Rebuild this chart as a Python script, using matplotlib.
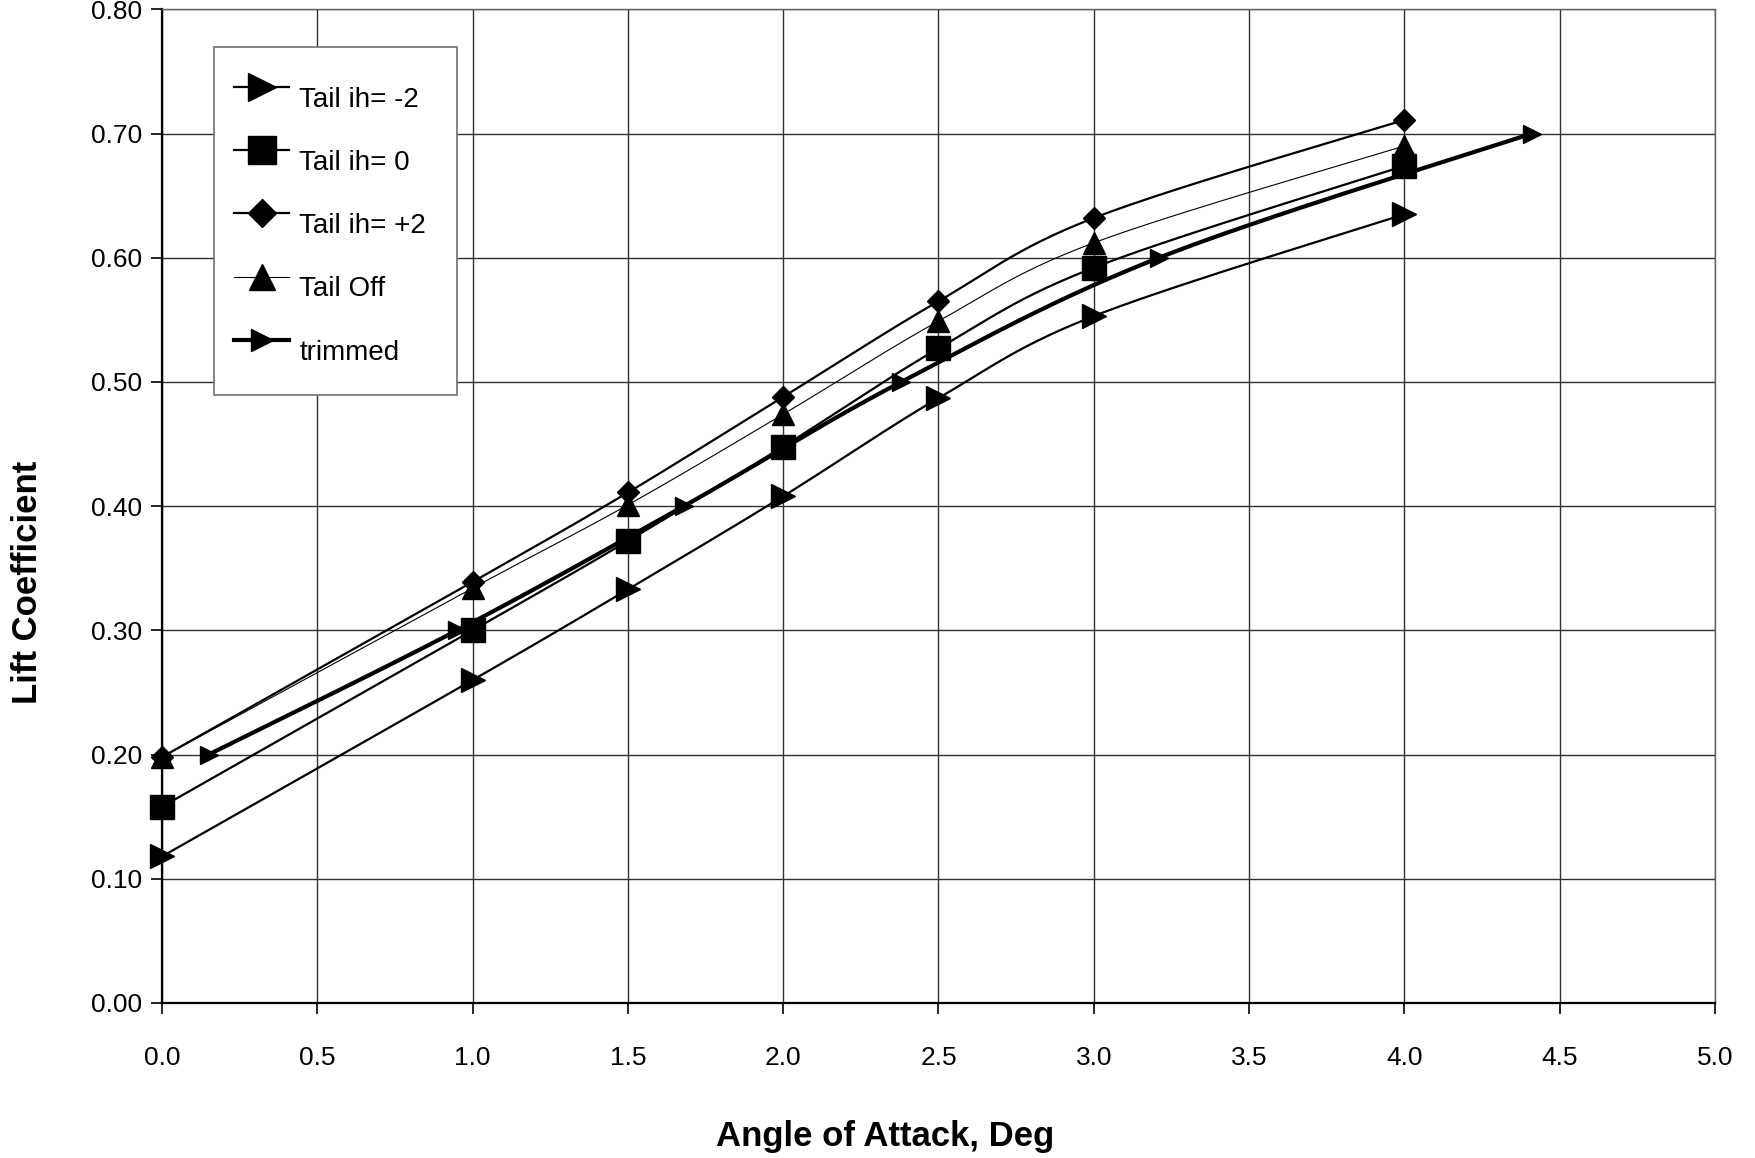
import numpy as np
import matplotlib.pyplot as plt
from matplotlib.ticker import MultipleLocator, FormatStrFormatter
from matplotlib.patches import Rectangle

plt.rcParams['font.family'] = ['Liberation Sans', 'DejaVu Sans']

# angle of attack, deg
alpha = [0.0, 1.0, 1.5, 2.0, 2.5, 3.0, 4.0]

# lift coefficient for each tail setting
cl_ih_m2 = [0.118, 0.260, 0.333, 0.408, 0.487, 0.553, 0.635]
cl_ih_0 = [0.158, 0.300, 0.372, 0.448, 0.527, 0.592, 0.674]
cl_ih_p2 = [0.198, 0.339, 0.411, 0.488, 0.565, 0.632, 0.711]
cl_tail_off = [0.198, 0.334, 0.401, 0.474, 0.549, 0.612, 0.690]

# trimmed condition
alpha_trim = [0.15, 0.95, 1.68, 2.38, 3.21, 4.41]
cl_trim = [0.20, 0.30, 0.40, 0.50, 0.60, 0.70]

XMAX, YMAX = 5.0, 0.8


def smooth(x, y, n=30):
    # excel style smoothed line (catmull-rom bezier), done in scaled space
    p = np.column_stack([np.asarray(x) / XMAX * 1.56, np.asarray(y) / YMAX])
    out = [p[0]]
    t = np.linspace(0, 1, n + 1)[1:][:, None]
    for i in range(len(p) - 1):
        p0 = p[i - 1] if i > 0 else p[i]
        p1, p2 = p[i], p[i + 1]
        p3 = p[i + 2] if i + 2 < len(p) else p[i + 1]
        c1 = p1 + (p2 - p0) / 6
        c2 = p2 - (p3 - p1) / 6
        seg = ((1 - t) ** 3 * p1 + 3 * (1 - t) ** 2 * t * c1
               + 3 * (1 - t) * t ** 2 * c2 + t ** 3 * p2)
        out.extend(seg)
    out = np.array(out)
    return out[:, 0] * XMAX / 1.56, out[:, 1] * YMAX, n


fig = plt.figure(figsize=(17.56, 11.58), dpi=100)
ax = fig.add_axes([162 / 1756, 1 - 1003 / 1158, 1553 / 1756, 993.7 / 1158])

series = [
    (alpha, cl_ih_m2, 'Tail ih= -2', '>', 17, 1.6),
    (alpha, cl_ih_0, 'Tail ih= 0', 's', 17, 1.6),
    (alpha, cl_ih_p2, 'Tail ih= +2', 'D', 11.5, 1.6),
    (alpha, cl_tail_off, 'Tail Off', '^', 15.5, 0.8),
    (alpha_trim, cl_trim, 'trimmed', '>', 13.5, 3.0),
]
for x, y, lab, mk, ms, lw in series:
    xs, ys, n = smooth(x, y)
    ax.plot(xs, ys, color='black', lw=lw, marker=mk, ms=ms, mfc='black',
            mec='black', markevery=n, label=lab, zorder=3, clip_on=False)

ax.set_xlim(0, XMAX)
ax.set_ylim(0, YMAX)
ax.xaxis.set_major_locator(MultipleLocator(0.5))
ax.yaxis.set_major_locator(MultipleLocator(0.1))
ax.xaxis.set_major_formatter(FormatStrFormatter('%.1f'))
ax.yaxis.set_major_formatter(FormatStrFormatter('%.2f'))
ax.grid(True, color='#303030', lw=1.0, zorder=0)
ax.tick_params(axis='both', direction='out', length=8, width=1.2, labelsize=19)
ax.tick_params(axis='x', pad=23)
ax.tick_params(axis='y', pad=6.5)
for s in ['left', 'bottom']:
    ax.spines[s].set_color('black')
    ax.spines[s].set_linewidth(1.6)
for s in ['top', 'right']:
    ax.spines[s].set_color('#606060')
    ax.spines[s].set_linewidth(1.0)

fig.text(885 / 1756, 1 - 1146 / 1158, 'Angle of Attack, Deg', ha='center',
         va='baseline', fontsize=25, fontweight='bold')
fig.text(28 / 1756, 1 - 582 / 1158, 'Lift Coefficient', ha='center',
         va='center', rotation=90, fontsize=25, fontweight='bold')

# legend box
box_l, box_t = (214 - 162) / 1553, (1003 - 46.7) / 993.7
box_w, box_h = 243 / 1553, 348 / 993.7
ax.add_patch(Rectangle((box_l, box_t - box_h), box_w, box_h, transform=ax.transAxes,
                       facecolor='white', edgecolor='#707070', lw=1.2, zorder=4))
leg = ax.legend(loc='upper left', bbox_to_anchor=(box_l + 0.006, box_t - 0.019),
                frameon=False, fontsize=20, handlelength=1.98, handletextpad=0.36,
                labelspacing=1.34, markerscale=1.2, borderaxespad=0, borderpad=0.4)
leg.set_zorder(5)
for t in leg.get_texts():
    t.set_y(-10)

fig.savefig('out.png', dpi=100)
